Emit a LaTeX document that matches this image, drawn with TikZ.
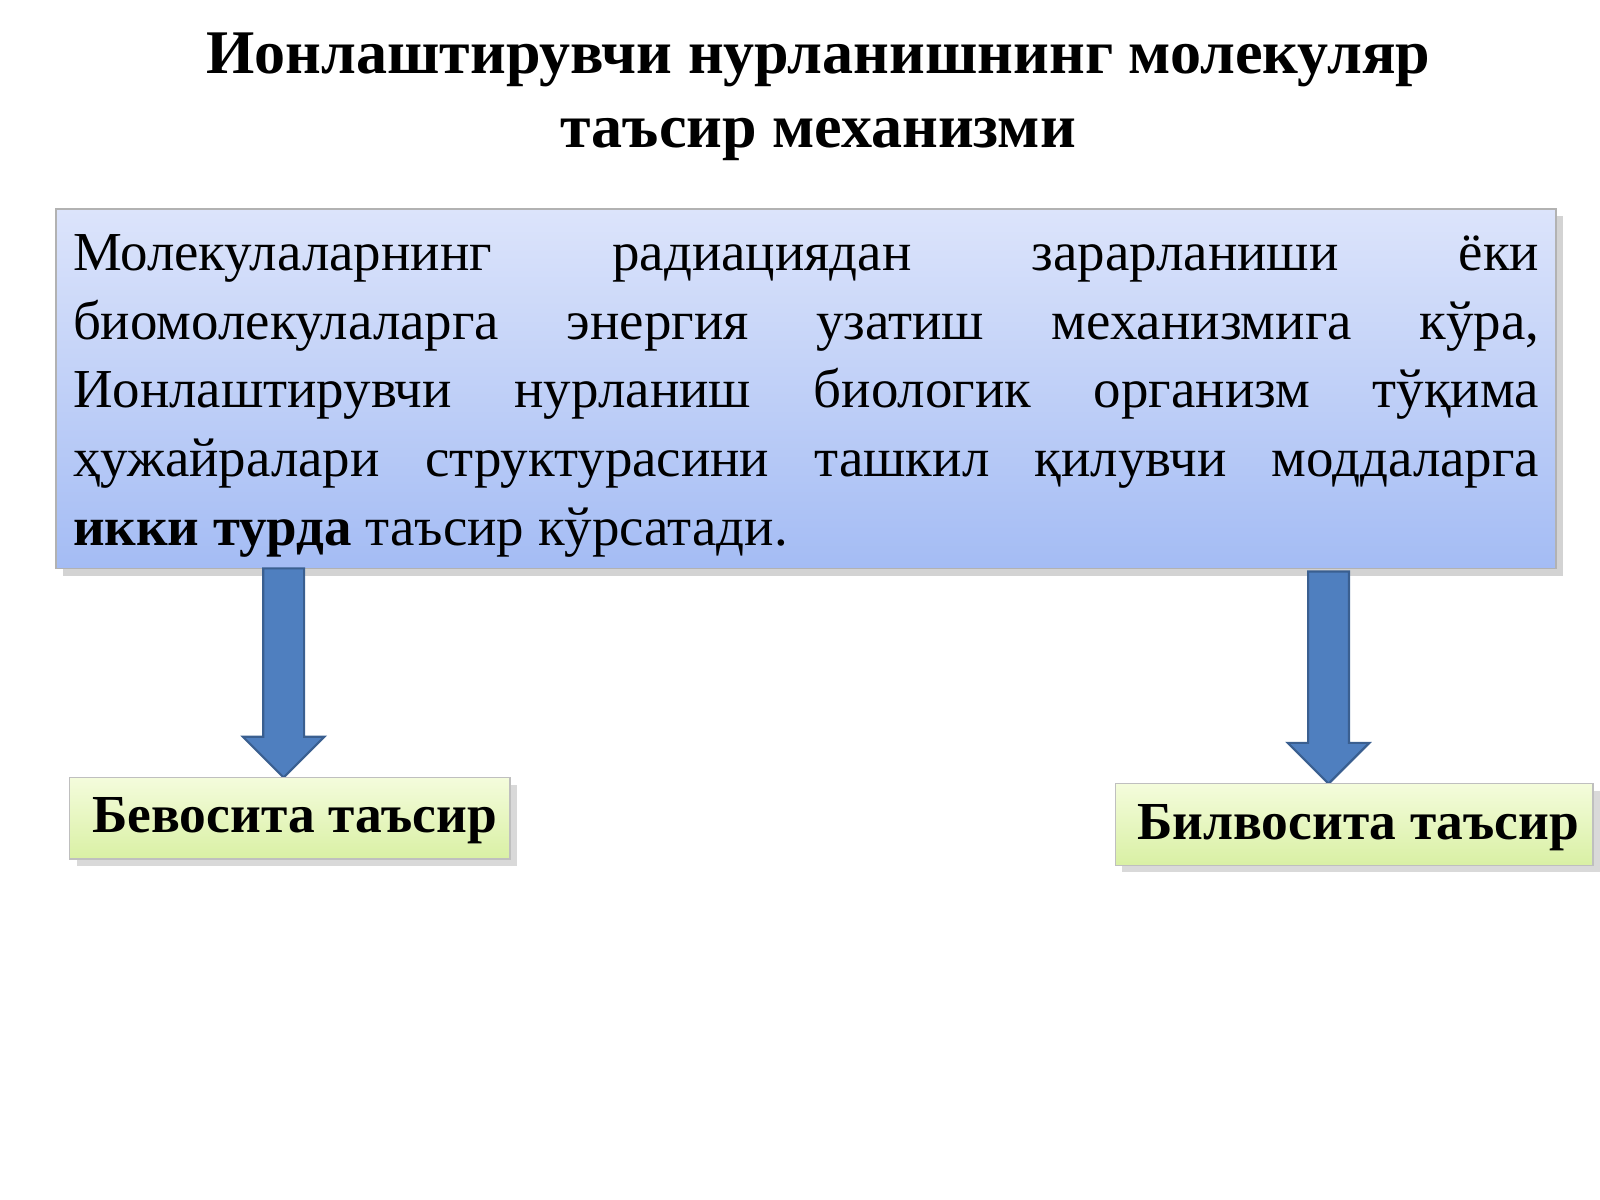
\documentclass[tikz,border=0pt]{standalone}
\usepackage{fontspec}
\setmainfont{Liberation Serif}
\usetikzlibrary{shadows}
\definecolor{arr}{HTML}{4F7FBF}
\definecolor{arrb}{HTML}{3A5F90}
\definecolor{btop}{HTML}{DCE4FB}
\definecolor{bbot}{HTML}{A4BCF4}
\definecolor{gtop}{HTML}{F4FCDC}
\definecolor{gbot}{HTML}{D9F0A4}
\tikzset{
 bigarrow/.style={fill=arr,draw=arrb,line width=0.6pt},
 gbox/.style={draw=black!25,top color=gtop,bottom color=gbot,drop shadow={opacity=0.3,shadow xshift=2pt,shadow yshift=-2pt}},
 glabel/.style={font=\fontsize{14.9}{18}\selectfont\bfseries,anchor=west}
}
\begin{document}
\begin{tikzpicture}[x=0.01cm,y=-0.01cm]
\useasboundingbox (0,0) rectangle (1568,1176);
\node (title) at (802,95) [align=center,font=\fontsize{17.3}{20.5}\selectfont\bfseries] {Ионлаштирувчи нурланишнинг молекуляр\\таъсир механизми};
\path[draw=black!30,top color=btop,bottom color=bbot,drop shadow={opacity=0.35,shadow xshift=2pt,shadow yshift=-2pt}] (55,205) rectangle (1525,557);
\node (main) at (790,388) [text width=14.36cm,align=justify,font=\fontsize{15.3}{19.1}\selectfont,inner sep=0pt] {Молекулаларнинг радиациядан зарарланиши ёки биомолекулаларга энергия узатиш механизмига кўра, Ионлаштирувчи нурланиш биологик организм тўқима ҳужайралари структурасини ташкил қилувчи моддаларга \textbf{икки турда} таъсир кўрсатади.};
\path[bigarrow] (258,557) -- (298,557) -- (298,722) -- (318,722) -- (278,762) -- (238,722) -- (258,722) -- cycle;
\path[bigarrow] (1282,560) -- (1322,560) -- (1322,728) -- (1342,728) -- (1302,768) -- (1262,728) -- (1282,728) -- cycle;
\path[gbox] (68,762) rectangle (500,842);
\node (a) [glabel] at (78,804) {Бевосита таъсир};
\path[gbox] (1093,768) rectangle (1561,848);
\node (b) [glabel] at (1102,811) {Билвосита таъсир};
\end{tikzpicture}
\end{document}
